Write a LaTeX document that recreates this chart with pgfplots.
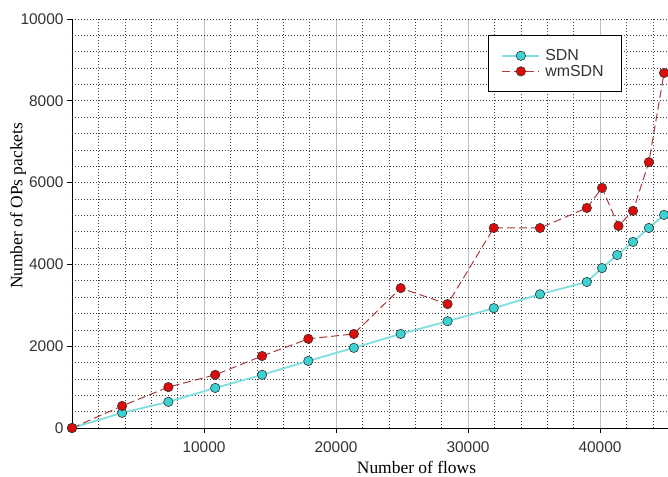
\documentclass[border=0pt]{standalone}
\usepackage{fontspec}
\setmainfont{Liberation Serif}
\newfontfamily\arial{Liberation Sans}
\usepackage{pgfplots}
\pgfplotsset{compat=1.18}
\definecolor{sdnline}{HTML}{7FDEDE}
\definecolor{sdnfill}{HTML}{3CD2D2}
\definecolor{wmline}{HTML}{A83A3A}
\definecolor{wmfill}{HTML}{DD0A0A}
\definecolor{ticktext}{HTML}{333333}
\begin{document}
\begin{tikzpicture}
\begin{axis}[
  scale only axis,
  width=596bp, height=409bp,
  xmin=0, xmax=45150, ymin=0, ymax=10000,
  axis x line*=bottom, axis y line*=left,
  axis line style={black, line width=1pt},
  xtick={10000,20000,30000,40000},
  ytick={0,2000,4000,6000,8000,10000},
  minor xtick={0,2000,...,44000},
  minor ytick={0,400,...,10000},
  scaled ticks=false,
  /pgf/number format/1000 sep={},
  /pgf/number format/assume math mode=true,
  tick label style={font=\arial\fontsize{15.5}{17}\selectfont, text=ticktext},
  major tick length=5bp, minor tick length=0pt,
  tick style={black, line width=0.8pt},
  tick align=outside,
  xticklabel style={yshift=-5bp},
  grid=both,
  minor grid style={black!75, line width=0.6pt, dash pattern=on 0.8bp off 2.2bp},
  major y grid style={black!75, line width=0.6pt, dash pattern=on 0.8bp off 2.2bp},
  major x grid style={black!25, line width=0.9pt},
  xlabel={Number of flows},
  ylabel={Number of OPs packets},
  label style={font=\fontsize{17.5}{19}\selectfont},
  xlabel style={at={(rel axis cs:0.578,0)}, anchor=center, yshift=-39bp},
  ylabel style={at={(rel axis cs:0,0.543)}, anchor=center, yshift=54bp},
  legend style={at={(rel axis cs:0.698,0.961)}, anchor=north west,
    draw=black, line width=1pt, font=\arial\fontsize{16}{17}\selectfont,
    inner xsep=13bp, inner ysep=12bp, row sep=-1bp, text=ticktext,
    nodes={inner xsep=5bp}},
  legend cell align=left,
  legend image code/.code={%
    \draw[#1, mark repeat=2, mark phase=2] plot coordinates {(0bp,0bp) (18.5bp,0bp) (37bp,0bp)};},
  clip=false,
]
\addplot[sdnline, line width=1.8pt, mark=*, mark size=4.7bp,
  mark options={solid, fill=sdnfill, draw=black!80, line width=0.6pt}]
coordinates {
(0,0) (3800,370) (7300,640) (10850,980) (14400,1300) (17900,1640)
(21350,1960) (24900,2300) (28450,2610) (31950,2930) (35450,3270)
(39000,3570) (40150,3910) (41300,4230) (42500,4550) (43700,4890) (44850,5210)
};
\addlegendentry{SDN}
\addplot[wmline, line width=1pt, dash pattern=on 8bp off 4bp, mark=*, mark size=4.7bp,
  mark options={solid, fill=wmfill, draw=black!80, line width=0.6pt}]
coordinates {
(0,0) (3800,540) (7300,1000) (10850,1300) (14400,1760) (17900,2180)
(21350,2300) (24900,3420) (28450,3030) (31950,4890) (35450,4890)
(39000,5380) (40150,5870) (41400,4940) (42500,5310) (43700,6500) (44850,8680)
};
\addlegendentry{wmSDN}
\end{axis}
\pgfresetboundingbox
\path[use as bounding box] (-72bp,-49bp) rectangle (596bp,428bp);
\end{tikzpicture}
\end{document}
